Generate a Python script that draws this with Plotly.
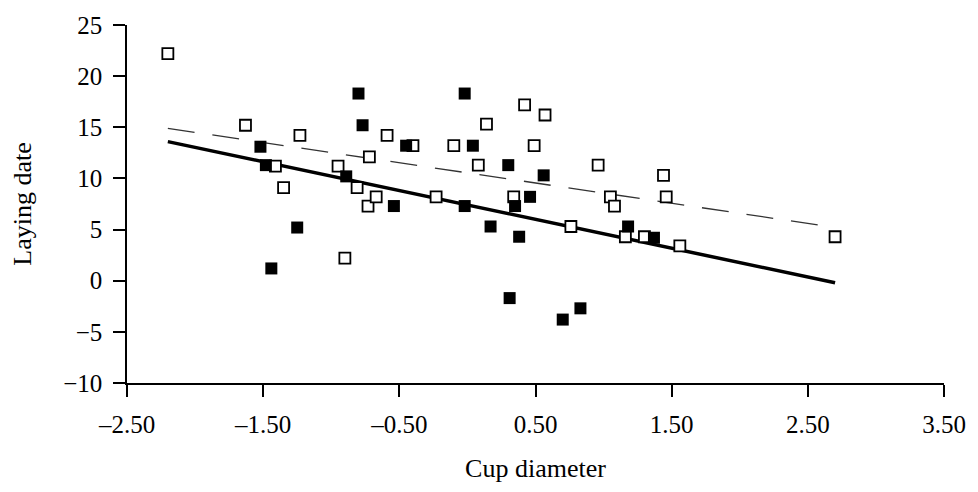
import plotly.graph_objects as go

# Filled squares
filled_x = [-1.52, -1.48, -1.44, -1.25, -0.80, -0.77, -0.89, -0.54, -0.45, -0.02,
            0.04, -0.02, 0.17, 0.30, 0.31, 0.35, 0.38, 0.46, 0.56, 0.70, 0.83, 1.18, 1.37]
filled_y = [13.1, 11.3, 1.2, 5.2, 18.3, 15.2, 10.2, 7.3, 13.2, 18.3,
            13.2, 7.3, 5.3, 11.3, -1.7, 7.3, 4.3, 8.2, 10.3, -3.8, -2.7, 5.3, 4.2]

# Open squares
open_x = [-2.20, -1.63, -1.23, -1.41, -1.35, -0.95, -0.90, -0.81, -0.72, -0.73, -0.67,
          -0.59, -0.40, -0.23, -0.10, 0.08, 0.14, 0.34, 0.42, 0.49, 0.57, 0.76, 0.96,
          1.05, 1.08, 1.16, 1.30, 1.44, 1.46, 1.56, 2.70]
open_y = [22.2, 15.2, 14.2, 11.2, 9.1, 11.2, 2.2, 9.1, 12.1, 7.3, 8.2,
          14.2, 13.2, 8.2, 13.2, 11.3, 15.3, 8.2, 17.2, 13.2, 16.2, 5.3, 11.3,
          8.2, 7.3, 4.3, 4.3, 10.3, 8.2, 3.4, 4.3]

# Regression lines (end points)
line_x = [-2.2, 2.7]
solid_y = [13.6, -0.2]
dashed_y = [14.9, 5.2]

x_ticks = [-2.5, -1.5, -0.5, 0.5, 1.5, 2.5, 3.5]
x_tick_text = ["\u20132.50", "\u20131.50", "\u20130.50", "0.50", "1.50", "2.50", "3.50"]
y_ticks = [-10, -5, 0, 5, 10, 15, 20, 25]

FONT = "Liberation Serif, Times New Roman, serif"

fig = go.Figure()
fig.add_trace(go.Scatter(x=line_x, y=dashed_y, mode="lines",
                         line=dict(color="#333333", width=1.3, dash="27px,18px"),
                         showlegend=False, hoverinfo="skip"))
fig.add_trace(go.Scatter(x=line_x, y=solid_y, mode="lines",
                         line=dict(color="black", width=3.5),
                         showlegend=False, hoverinfo="skip"))
fig.add_trace(go.Scatter(x=open_x, y=open_y, mode="markers",
                         marker=dict(symbol="square", size=11, color="white",
                                     line=dict(color="black", width=1.8)),
                         showlegend=False))
fig.add_trace(go.Scatter(x=filled_x, y=filled_y, mode="markers",
                         marker=dict(symbol="square", size=12, color="black",
                                     line=dict(width=0)),
                         showlegend=False))

fig.update_layout(
    width=978, height=492,
    margin=dict(l=127, r=27, t=25, b=109),
    paper_bgcolor="white", plot_bgcolor="white",
    font=dict(family=FONT, color="black", size=25),
    xaxis=dict(range=[-2.5, 3.5], tickvals=x_ticks, ticktext=x_tick_text,
               showgrid=False, zeroline=False, showline=True, linecolor="black",
               linewidth=1.5, ticks="outside", ticklen=12, tickwidth=1.5,
               tickcolor="black", tickfont=dict(size=25, family=FONT),
               ticklabelstandoff=6,
               title=dict(text="Cup diameter", font=dict(size=26, family=FONT), standoff=22)),
    yaxis=dict(range=[-10, 25], tickvals=y_ticks,
               showgrid=False, zeroline=False, showline=True, linecolor="black",
               linewidth=1.5, ticks="outside", ticklen=12, tickwidth=1.5,
               tickcolor="black", tickfont=dict(size=25, family=FONT),
               ticklabelstandoff=6,
               title=dict(text="Laying date", font=dict(size=26, family=FONT), standoff=24)),
)

fig.write_html("out.html")
